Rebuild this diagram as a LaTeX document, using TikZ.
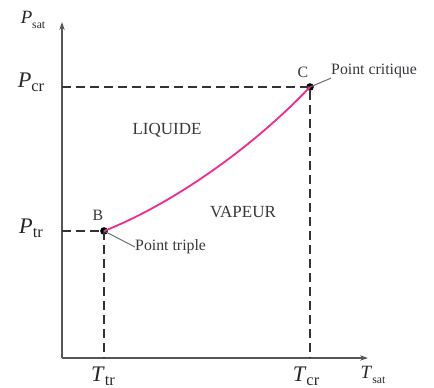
\documentclass[tikz,border=0pt]{standalone}
\usepackage{fontspec}
\setmainfont{Liberation Serif}
\usetikzlibrary{arrows.meta,positioning,calc}
\definecolor{ptgris}{RGB}{55,55,60}
\definecolor{ptaxe}{RGB}{85,85,90}
\definecolor{ptrose}{RGB}{240,45,145}
\definecolor{ptfil}{RGB}{110,110,115}

\begin{document}
\begin{tikzpicture}[x=0.3mm, y=-0.3mm,
  ax/.style={-{Stealth[length=2.4mm,width=1.6mm]}, line width=0.55mm, ptaxe},
  pt/.style={circle, fill=black, inner sep=0pt, minimum size=2.3mm},
  tiret/.style={dash pattern=on 2.7mm off 1.5mm, line width=0.4mm, black!80},
  fil/.style={line width=0.3mm, ptfil},
  zone/.style={font=\fontsize{14.5}{14.5}\selectfont, ptgris, inner sep=0pt},
  lbl/.style={font=\fontsize{13.5}{13.5}\selectfont, ptgris, inner sep=0pt},
  grand/.style={font=\fontsize{19}{19}\selectfont, black!85, inner sep=0pt},
  petit/.style={font=\fontsize{16}{16}\selectfont, black!85, inner sep=0pt}
]
  \useasboundingbox (0,0) rectangle (434,388);

  % axes
  \coordinate (O)  at (62,358);
  \coordinate (Py) at (62,22);
  \coordinate (Tx) at (368,358);
  \draw[ax] (O) -- (Py);
  \draw[ax] (O) -- (Tx);

  % points B et C
  \node[pt] (B) at (104,231) {};
  \node[pt] (C) at (310,87) {};
  \coordinate (yB) at (62,231);
  \coordinate (xB) at (104,358);
  \coordinate (yC) at (62,87);
  \coordinate (xC) at (310,358);

  \draw[tiret] (yB) -- (B.center) -- (xB);
  \draw[tiret] (yC) -- (C.center) -- (xC);

  % courbe de saturation
  \draw[ptrose, line width=0.55mm] (B.center) .. controls (170,205) and (250,150) .. (C.center);

  % etiquettes
  \node[lbl] (nB) at (98,215) {B};
  \node[lbl] (nC) at (303,72) {C};
  \node[lbl, anchor=west] (crit) at (331,71) {Point critique};
  \node[lbl, anchor=west] (trip) at (135,247) {Point triple};
  \draw[fil] (C.center) -- (crit.south west);
  \draw[fil] (B.center) -- (trip.west);

  \node[zone] (liq) at (167,130) {LIQUIDE};
  \node[zone] (vap) at (243,212) {VAPEUR};

  % grandeurs
  \node[petit] (Psat) at (33,20) {\textit{P}\raisebox{-0.6ex}{\fontsize{10}{10}\selectfont sat}};
  \node[grand] (Pcr) at (31,82) {\textit{P}\raisebox{-0.4ex}{\fontsize{14}{14}\selectfont cr}};
  \node[grand] (Ptr) at (31,228) {\textit{P}\raisebox{-0.4ex}{\fontsize{14}{14}\selectfont tr}};
  \node[grand] (Ttr) at (103,376) {\textit{T}\raisebox{-0.4ex}{\fontsize{14}{14}\selectfont tr}};
  \node[grand] (Tcr) at (306,376) {\textit{T}\raisebox{-0.4ex}{\fontsize{14}{14}\selectfont cr}};
  \node[petit] (Tsat) at (373,375) {\textit{T}\raisebox{-0.6ex}{\fontsize{10}{10}\selectfont sat}};
\end{tikzpicture}
\end{document}
